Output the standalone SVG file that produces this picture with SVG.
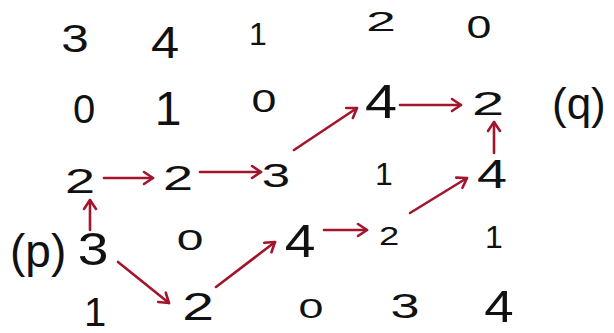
<svg xmlns="http://www.w3.org/2000/svg" width="614" height="333" viewBox="0 0 614 333">
<style>
text{font-family:"Liberation Sans","DejaVu Sans",sans-serif;fill:#111;text-anchor:middle}
.lbl{text-anchor:start}
.c line{stroke:#a3152c;stroke-width:2.6;stroke-linecap:round;fill:none}
</style>
<defs>
<marker id="ah" viewBox="-12 -8 14 16" markerWidth="14" markerHeight="16" refX="0" refY="0" orient="auto" markerUnits="userSpaceOnUse">
<path d="M -9 -6 L 0 0 L -9 6" fill="none" stroke="#a3152c" stroke-width="2.6" stroke-linecap="round" stroke-linejoin="round"/>
</marker>
</defs>
<rect width="614" height="333" fill="#fff"/>
<g id="r1">
<text id="n11" transform="translate(75 52) scale(1.3 1)" font-size="38">3</text>
<text id="n12" transform="translate(165 58) scale(1.15 1)" font-size="44">4</text>
<text id="n13" transform="translate(258 45)" font-size="32">1</text>
<text id="n14" transform="translate(381 31) scale(1.9 1)" font-size="28">2</text>
<text id="n15" transform="translate(479 38) scale(1.4 1)" font-size="32">0</text>
</g>
<g id="r2">
<text id="n21" transform="translate(84 123)" font-size="40">0</text>
<text id="n22" transform="translate(168 125)" font-size="48">1</text>
<text id="n23" transform="translate(264 112) scale(1.4 1)" font-size="32">0</text>
<text id="n24" transform="translate(381 118) scale(1.2 1)" font-size="48">4</text>
<text id="n25" transform="translate(488 115) scale(1.7 1)" font-size="34">2</text>
<text id="q" class="lbl" x="552" y="119" font-size="44">(q)</text>
</g>
<g id="r3">
<text id="n31" transform="translate(80 193) scale(1.5 1)" font-size="36">2</text>
<text id="n32" transform="translate(178 190) scale(1.5 1)" font-size="36">2</text>
<text id="n33" transform="translate(276 187) scale(1.5 1)" font-size="34">3</text>
<text id="n34" transform="translate(384 185)" font-size="32">1</text>
<text id="n35" transform="translate(492 188) scale(1.35 1)" font-size="40">4</text>
</g>
<g id="r4">
<text id="p" class="lbl" x="10" y="267" font-size="46">(p)</text>
<text id="n41" transform="translate(93 265) scale(1.2 1)" font-size="46">3</text>
<text id="n42" transform="translate(190 250) scale(1.6 1)" font-size="30">0</text>
<text id="n43" transform="translate(300 257) scale(1.2 1)" font-size="46">4</text>
<text id="n44" transform="translate(389 245) scale(1.4 1)" font-size="26">2</text>
<text id="n45" transform="translate(494 248)" font-size="32">1</text>
</g>
<g id="r5">
<text id="n51" transform="translate(95 326)" font-size="40">1</text>
<text id="n52" transform="translate(198 320) scale(1.5 1)" font-size="38">2</text>
<text id="n53" transform="translate(311 318) scale(1.6 1)" font-size="28">0</text>
<text id="n54" transform="translate(405 318) scale(1.45 1)" font-size="36">3</text>
<text id="n55" transform="translate(499 322) scale(1.2 1)" font-size="44">4</text>
</g>
<g id="connectors" class="c">
<line x1="90" y1="230" x2="90" y2="200" marker-end="url(#ah)"/>
<line x1="104" y1="178" x2="153" y2="178" marker-end="url(#ah)"/>
<line x1="200" y1="172" x2="261" y2="172" marker-end="url(#ah)"/>
<line x1="294" y1="150" x2="357" y2="108" marker-end="url(#ah)"/>
<line x1="400" y1="105" x2="461" y2="105" marker-end="url(#ah)"/>
<line x1="494" y1="153" x2="494" y2="122" marker-end="url(#ah)"/>
<line x1="118" y1="262" x2="169" y2="303" marker-end="url(#ah)"/>
<line x1="216" y1="287" x2="275" y2="242" marker-end="url(#ah)"/>
<line x1="324" y1="230" x2="367" y2="230" marker-end="url(#ah)"/>
<line x1="410" y1="213" x2="467" y2="178" marker-end="url(#ah)"/>
</g>
</svg>
